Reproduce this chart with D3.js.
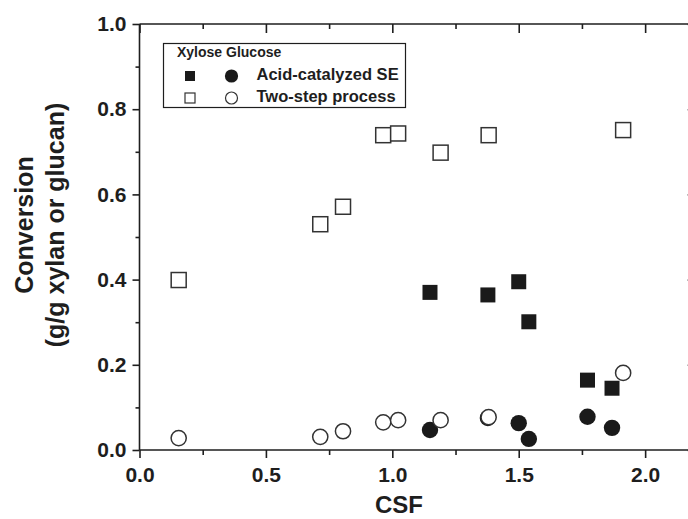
<!DOCTYPE html>
<html>
<head>
<meta charset="utf-8">
<script src="https://cdn.jsdelivr.net/npm/d3@7"></script>
<style>
  html, body { margin: 0; padding: 0; background: #fff; }
  svg { display: block; font-family: "Liberation Sans", Arial, sans-serif; }
</style>
</head>
<body>
<svg id="chart" width="688" height="519"></svg>
<script>
// Severity factor (CSF) for each run
const csfTwoStep = [0.155, 0.715, 0.805, 0.964, 1.023, 1.191, 1.381, 1.913];
const csfAcidSE  = [1.149, 1.378, 1.500, 1.540, 1.772, 1.869];

// Conversion (g/g xylan or glucan)
const xyloseTwoStep  = [0.399, 0.530, 0.571, 0.739, 0.743, 0.698, 0.739, 0.751];
const glucoseTwoStep = [0.028, 0.031, 0.044, 0.065, 0.070, 0.070, 0.077, 0.181];
const xyloseAcidSE   = [0.370, 0.364, 0.395, 0.301, 0.164, 0.145];
const glucoseAcidSE  = [0.047, 0.075, 0.063, 0.026, 0.078, 0.052];

// Axis ticks
const xMajorTicks = [0.0, 0.5, 1.0, 1.5, 2.0];
const xMinorTicks = [0.25, 0.75, 1.25, 1.75];
const yMajorTicks = [0.0, 0.2, 0.4, 0.6, 0.8, 1.0];
const yMinorTicks = [0.1, 0.3, 0.5, 0.7, 0.9];

const legendHeader = "Xylose Glucose";
const legendLabels = ["Acid-catalyzed SE", "Two-step process"];

const svg = d3.select("#chart");
const ink = "#1e1e1e";

const x = d3.scaleLinear().domain([0, 2.2]).range([139.5, 695.7]);
const y = d3.scaleLinear().domain([0, 1]).range([450, 24]);

const fmt = d3.format(".1f");

// Frame lines
const frame = svg.append("g").attr("stroke", ink).attr("stroke-width", 1.6).attr("fill", "none");
frame.append("line").attr("x1", x.range()[0]).attr("x2", x.range()[1]).attr("y1", y(0)).attr("y2", y(0));
frame.append("line").attr("x1", x.range()[0]).attr("x2", x.range()[1]).attr("y1", y(1)).attr("y2", y(1));
frame.append("line").attr("x1", x(0)).attr("x2", x(0)).attr("y1", y(0)).attr("y2", y(1));
frame.append("line").attr("x1", x(2.2)).attr("x2", x(2.2)).attr("y1", y(0)).attr("y2", y(1));

// Bottom axis: outward ticks with labels
svg.append("g").attr("transform", `translate(0,${y(0)})`)
  .call(d3.axisBottom(x).tickValues(xMajorTicks).tickFormat(fmt).tickSize(8).tickPadding(9));
svg.append("g").attr("transform", `translate(0,${y(0)})`)
  .call(d3.axisBottom(x).tickValues(xMinorTicks).tickFormat("").tickSize(5));

// Left axis: outward ticks with labels
svg.append("g").attr("transform", `translate(${x(0)},0)`)
  .call(d3.axisLeft(y).tickValues(yMajorTicks).tickFormat(fmt).tickSize(7).tickPadding(6));
svg.append("g").attr("transform", `translate(${x(0)},0)`)
  .call(d3.axisLeft(y).tickValues(yMinorTicks).tickFormat("").tickSize(4));

// Top and right axes: inward ticks, no labels
svg.append("g").attr("transform", `translate(0,${y(1)})`)
  .call(d3.axisBottom(x).tickValues(xMajorTicks).tickFormat("").tickSize(9));
svg.append("g").attr("transform", `translate(0,${y(1)})`)
  .call(d3.axisBottom(x).tickValues(xMinorTicks).tickFormat("").tickSize(5));
svg.append("g").attr("transform", `translate(${x(2.2)},0)`)
  .call(d3.axisLeft(y).tickValues(yMajorTicks).tickFormat("").tickSize(8));
svg.append("g").attr("transform", `translate(${x(2.2)},0)`)
  .call(d3.axisLeft(y).tickValues(yMinorTicks).tickFormat("").tickSize(4));

svg.selectAll(".domain").remove();
svg.selectAll(".tick line").attr("stroke", ink).attr("stroke-width", 1.6);
svg.selectAll(".tick text")
  .attr("fill", ink)
  .style("font-family", "'Liberation Sans', Arial, sans-serif")
  .style("font-size", "21px")
  .style("font-weight", "bold");

// Axis titles
svg.append("text")
  .attr("x", 399).attr("y", 513)
  .attr("text-anchor", "middle")
  .attr("fill", ink)
  .style("font-size", "24px").style("font-weight", "bold")
  .text("CSF");

const yTitle = svg.append("g").attr("transform", "translate(0,225) rotate(-90)");
yTitle.append("text").attr("x", 0).attr("y", 33)
  .attr("text-anchor", "middle").attr("fill", ink)
  .style("font-size", "25px").style("font-weight", "bold")
  .text("Conversion");
yTitle.append("text").attr("x", 0).attr("y", 64)
  .attr("text-anchor", "middle").attr("fill", ink)
  .style("font-size", "25px").style("font-weight", "bold")
  .text("(g/g xylan or glucan)");

// Markers
const sq = 15, rad = 8.2;
const filledFill = "#1a1a1a";
const openStroke = "#333";

function squares(g, xs, ys, filled) {
  g.selectAll(null).data(xs.map((c, i) => [c, ys[i]])).join("rect")
    .attr("x", d => x(d[0]) - sq / 2)
    .attr("y", d => y(d[1]) - sq / 2)
    .attr("width", sq).attr("height", sq)
    .attr("fill", filled ? filledFill : "#fff")
    .attr("stroke", filled ? "none" : openStroke)
    .attr("stroke-width", filled ? 0 : 1.5);
}
function circles(g, xs, ys, filled) {
  g.selectAll(null).data(xs.map((c, i) => [c, ys[i]])).join("circle")
    .attr("cx", d => x(d[0]))
    .attr("cy", d => y(d[1]))
    .attr("r", filled ? rad : rad - 0.6)
    .attr("fill", filled ? filledFill : "#fff")
    .attr("stroke", filled ? "none" : openStroke)
    .attr("stroke-width", filled ? 0 : 1.5);
}

const marks = svg.append("g");
squares(marks.append("g"), csfAcidSE, xyloseAcidSE, true);
circles(marks.append("g"), csfAcidSE, glucoseAcidSE, true);
squares(marks.append("g"), csfTwoStep, xyloseTwoStep, false);
circles(marks.append("g"), csfTwoStep, glucoseTwoStep, false);

// Legend
const lg = svg.append("g");
lg.append("rect").attr("x", 163.5).attr("y", 43.5).attr("width", 242).attr("height", 64)
  .attr("fill", "#fff").attr("stroke", ink).attr("stroke-width", 1.2);
lg.append("text").attr("x", 177).attr("y", 57)
  .attr("fill", ink).style("font-size", "14px").style("font-weight", "bold")
  .text(legendHeader);

const rows = [76, 98];
legendLabels.forEach((label, i) => {
  const cy = rows[i];
  const filled = i === 0;
  lg.append("rect").attr("x", 190 - 5).attr("y", cy - 5).attr("width", 10).attr("height", 10)
    .attr("fill", filled ? filledFill : "#fff")
    .attr("stroke", filled ? "none" : openStroke).attr("stroke-width", filled ? 0 : 1.2);
  lg.append("circle").attr("cx", 231.5).attr("cy", cy).attr("r", filled ? 6.6 : 6.0)
    .attr("fill", filled ? filledFill : "#fff")
    .attr("stroke", filled ? "none" : openStroke).attr("stroke-width", filled ? 0 : 1.2);
  lg.append("text").attr("x", 256.5).attr("y", cy + 4)
    .attr("fill", ink).style("font-size", "16.5px").style("font-weight", "bold")
    .text(label);
});
</script>
</body>
</html>
